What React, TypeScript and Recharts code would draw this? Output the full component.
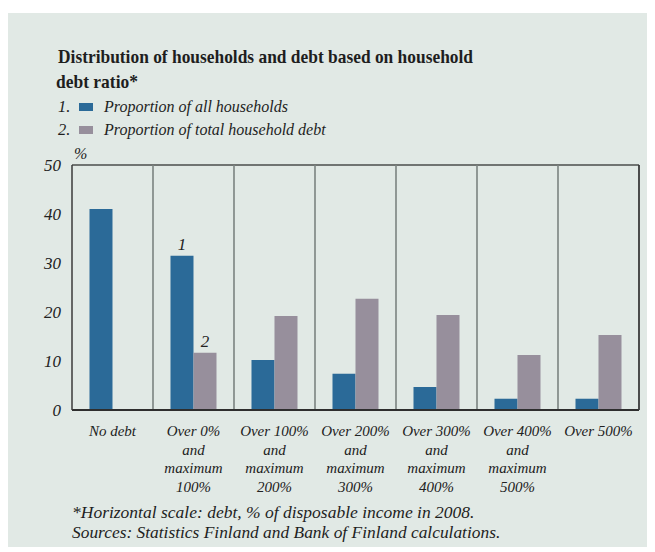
import { Bar, BarChart, CartesianGrid, LabelList, XAxis, YAxis } from "recharts";

const categories: string[][] = [
  ["No debt"],
  ["Over 0%", "and", "maximum", "100%"],
  ["Over 100%", "and", "maximum", "200%"],
  ["Over 200%", "and", "maximum", "300%"],
  ["Over 300%", "and", "maximum", "400%"],
  ["Over 400%", "and", "maximum", "500%"],
  ["Over 500%"],
];
const allHouseholds = [41, 31.5, 10.2, 7.4, 4.7, 2.3, 2.3];
const totalDebt: (number | null)[] = [null, 11.7, 19.2, 22.7, 19.4, 11.2, 15.3];
const yTicks = [0, 10, 20, 30, 40, 50];

const BLUE = "#2b6a98";
const GREY = "#978f9c";
const BG = "#e1e9e5";
const FONT = "'Liberation Serif', 'Times New Roman', serif";

const data = categories.map((lines, i) => ({
  name: lines.join(" "),
  households: allHouseholds[i],
  debt: totalDebt[i],
}));

// eslint-disable-next-line @typescript-eslint/no-explicit-any
function CategoryTick({ x, y, payload }: any) {
  const lines = categories[payload.index] ?? [String(payload.value)];
  return (
    <text
      x={x}
      y={y}
      textAnchor="middle"
      fontFamily={FONT}
      fontStyle="italic"
      fontSize={15}
      fill="#222"
    >
      {lines.map((l, i) => (
        <tspan key={i} x={x} dy={i === 0 ? 24 : 18.7}>
          {l}
        </tspan>
      ))}
    </text>
  );
}

// only the second category carries the series numbers
// eslint-disable-next-line @typescript-eslint/no-explicit-any
const seriesMark = (mark: string) => (props: any) => {
  const { x, y, width, value } = props;
  if (value !== data[1].name) return null;
  return (
    <text
      x={Number(x) + Number(width) / 2}
      y={Number(y) - 6}
      textAnchor="middle"
      fontFamily={FONT}
      fontStyle="italic"
      fontSize={17}
      fill="#222"
    >
      {mark}
    </text>
  );
};

export default function App() {
  const W = 647;
  const H = 539;
  return (
    <div
      style={{
        position: "relative",
        top: 5,
        width: W,
        height: H,
        background: BG,
      }}
    >
      <BarChart
        width={W}
        height={H}
        data={data}
        margin={{ top: 152, right: 12, left: 24, bottom: 42 }}
        barCategoryGap="21.6%"
        barGap={0}
        style={{ position: "absolute", left: 0, top: 0 }}
      >
        <CartesianGrid
          vertical={false}
          stroke="#4a4c4b"
          strokeWidth={1.3}
          strokeOpacity={1}
        />
        <CartesianGrid
          horizontal={false}
          stroke="#7b8380"
          strokeWidth={1.6}
          // eslint-disable-next-line @typescript-eslint/no-explicit-any
          verticalCoordinatesGenerator={({ offset }: any) =>
            categories
              .slice(1)
              .map((_, i) => offset.left + ((i + 1) * offset.width) / categories.length)
          }
        />
        <XAxis
          dataKey="name"
          height={100}
          interval={0}
          tickLine={false}
          tickSize={0}
          axisLine={{ stroke: "#2e2e2e", strokeWidth: 2 }}
          tick={<CategoryTick />}
        />
        <YAxis
          yAxisId="left"
          domain={[0, 50]}
          ticks={yTicks}
          width={40}
          tickLine={false}
          tickSize={0}
          tickMargin={11}
          axisLine={{ stroke: "#3a3a3a", strokeWidth: 1.5 }}
          tick={{
            fontFamily: FONT,
            fontStyle: "italic",
            fontSize: 17,
            fill: "#222",
          }}
        />
        <YAxis
          yAxisId="right"
          orientation="right"
          domain={[0, 50]}
          ticks={yTicks}
          width={4}
          tick={false}
          tickLine={false}
          axisLine={{ stroke: "#3a3a3a", strokeWidth: 1.8 }}
        />
        <Bar dataKey="households" yAxisId="left" fill={BLUE} isAnimationActive={false}>
          <LabelList dataKey="name" content={seriesMark("1")} />
        </Bar>
        <Bar dataKey="debt" yAxisId="left" fill={GREY} isAnimationActive={false}>
          <LabelList dataKey="name" content={seriesMark("2")} />
        </Bar>
      </BarChart>
      <svg
        width={W}
        height={H}
        style={{ position: "absolute", left: 0, top: 0, pointerEvents: "none" }}
        fontFamily={FONT}
        fill="#1e1e1e"
      >
        <text
          x={50}
          y={50}
          fontSize={19.5}
          fontWeight="bold"
          textLength={415}
          lengthAdjust="spacingAndGlyphs"
        >
          Distribution of households and debt based on household
        </text>
        <text
          x={48}
          y={75}
          fontSize={19.5}
          fontWeight="bold"
          textLength={82}
          lengthAdjust="spacingAndGlyphs"
        >
          debt ratio*
        </text>
        <text x={50} y={99} fontSize={16.5} fontStyle="italic">
          1.
        </text>
        <rect x={71} y={90} width={14} height={8} fill={BLUE} />
        <text x={96} y={99} fontSize={16} fontStyle="italic">
          Proportion of all households
        </text>
        <text x={50} y={122} fontSize={16.5} fontStyle="italic">
          2.
        </text>
        <rect x={71} y={113} width={14} height={8} fill={GREY} />
        <text x={96} y={122} fontSize={16} fontStyle="italic">
          Proportion of total household debt
        </text>
        <text x={66} y={146} fontSize={16} fontStyle="italic">
          %
        </text>
        <text x={64} y={505} fontSize={17.5} fontStyle="italic">
          *Horizontal scale: debt, % of disposable income in 2008.
        </text>
        <text x={64} y={525} fontSize={17.4} fontStyle="italic">
          Sources: Statistics Finland and Bank of Finland calculations.
        </text>
      </svg>
    </div>
  );
}
